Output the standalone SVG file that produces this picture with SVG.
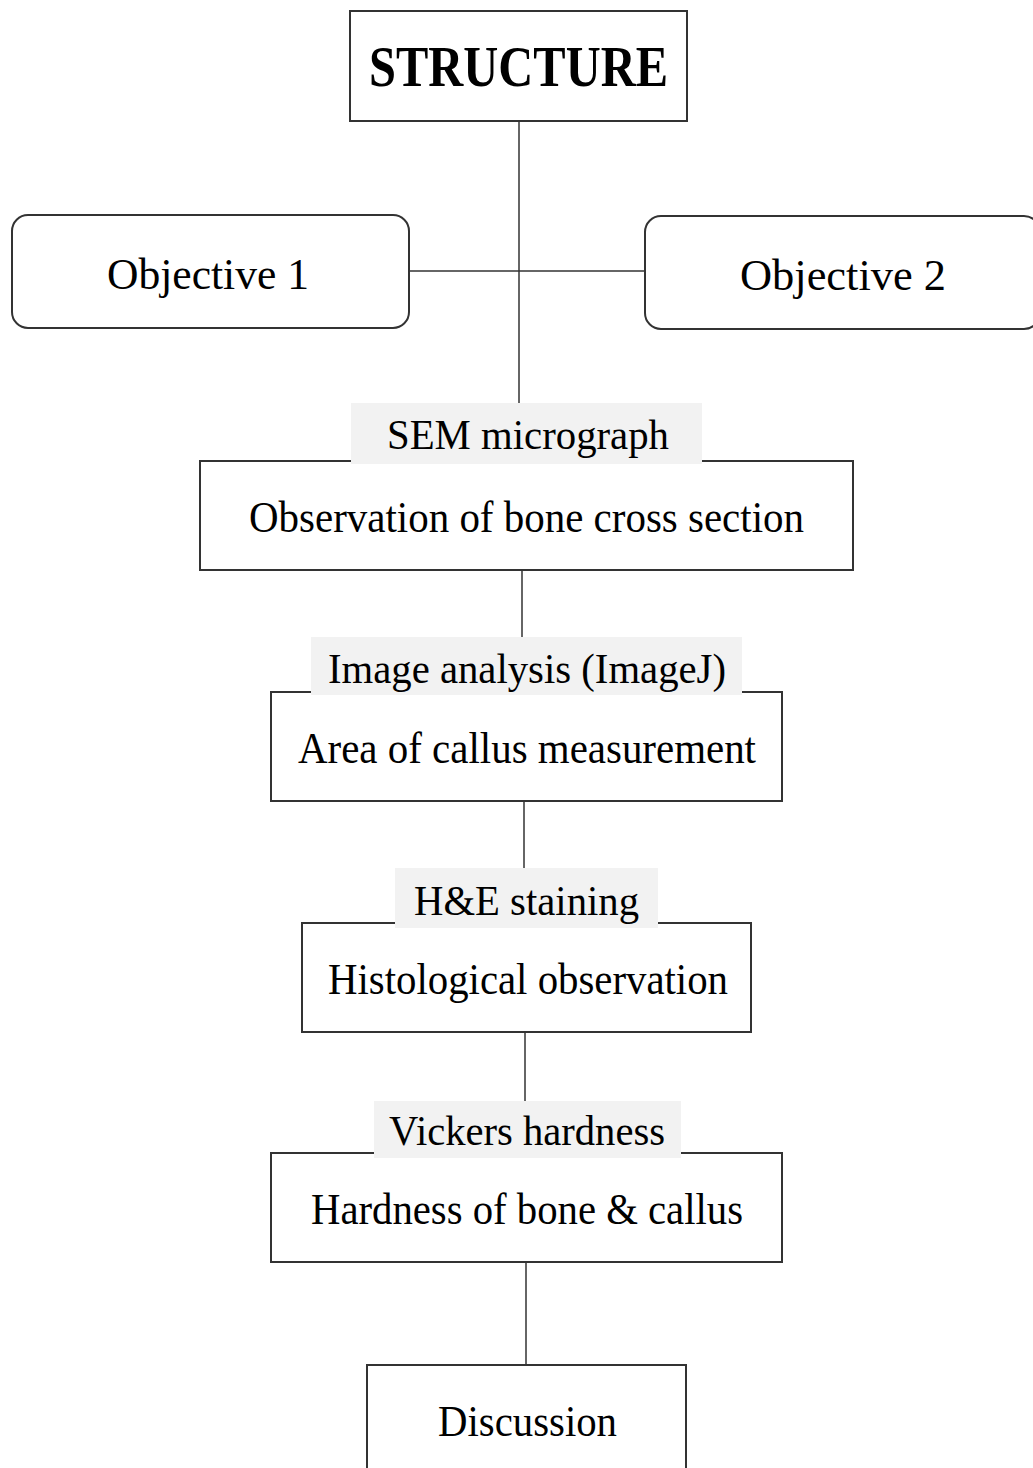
<svg xmlns="http://www.w3.org/2000/svg" width="1033" height="1468" viewBox="0 0 1033 1468">
<style>
.box{fill:#fff;stroke:#333;stroke-width:2}
.lbl{fill:#f2f2f2;stroke:none}
.ln{stroke:#333;stroke-width:1.5;fill:none}
text{font-family:"Liberation Serif","Times New Roman",serif;fill:#000;text-anchor:start}
.t{font-size:44px}
.s{font-size:42px}
.b{font-size:56px;font-weight:bold}
</style>
<rect width="1033" height="1468" fill="#fff"/>
<g id="connectors">
<line class="ln" x1="519" y1="121" x2="519" y2="404"/>
<line class="ln" x1="409" y1="271" x2="645" y2="271"/>
<line class="ln" x1="522" y1="570" x2="522" y2="638"/>
<line class="ln" x1="524" y1="801" x2="524" y2="869"/>
<line class="ln" x1="525" y1="1032" x2="525" y2="1102"/>
<line class="ln" x1="526" y1="1262" x2="526" y2="1365"/>
</g>
<g id="structure">
<rect class="box" x="350" y="11" width="337" height="110"/>
<text class="b" x="369" y="86" textLength="299" lengthAdjust="spacingAndGlyphs">STRUCTURE</text>
</g>
<g id="objective1">
<rect class="box" x="12" y="215" width="397" height="113" rx="16"/>
<text class="t" x="107" y="289" textLength="202" lengthAdjust="spacingAndGlyphs">Objective 1</text>
</g>
<g id="objective2">
<rect class="box" x="645" y="216" width="395" height="113" rx="16"/>
<text class="t" x="740" y="290" textLength="206" lengthAdjust="spacingAndGlyphs">Objective 2</text>
</g>
<g id="observation">
<rect class="box" x="200" y="461" width="653" height="109"/>
<rect class="lbl" x="351" y="403" width="351" height="61"/>
<text class="s" x="387" y="449" textLength="282" lengthAdjust="spacingAndGlyphs">SEM micrograph</text>
<text class="t" x="249" y="532" textLength="555" lengthAdjust="spacingAndGlyphs">Observation of bone cross section</text>
</g>
<g id="area">
<rect class="box" x="271" y="692" width="511" height="109"/>
<rect class="lbl" x="311" y="637" width="431" height="58"/>
<text class="s" x="328" y="683" textLength="398" lengthAdjust="spacingAndGlyphs">Image analysis (ImageJ)</text>
<text class="t" x="298" y="763" textLength="458" lengthAdjust="spacingAndGlyphs">Area of callus measurement</text>
</g>
<g id="histological">
<rect class="box" x="302" y="923" width="449" height="109"/>
<rect class="lbl" x="395" y="868" width="263" height="60"/>
<text class="s" x="414" y="915" textLength="225" lengthAdjust="spacingAndGlyphs">H&amp;E staining</text>
<text class="t" x="328" y="994" textLength="400" lengthAdjust="spacingAndGlyphs">Histological observation</text>
</g>
<g id="hardness">
<rect class="box" x="271" y="1153" width="511" height="109"/>
<rect class="lbl" x="374" y="1101" width="307" height="57"/>
<text class="s" x="389" y="1145" textLength="276" lengthAdjust="spacingAndGlyphs">Vickers hardness</text>
<text class="t" x="311" y="1224" textLength="432" lengthAdjust="spacingAndGlyphs">Hardness of bone &amp; callus</text>
</g>
<g id="discussion">
<rect class="box" x="367" y="1365" width="319" height="120"/>
<text class="t" x="438" y="1436" textLength="179" lengthAdjust="spacingAndGlyphs">Discussion</text>
</g>
</svg>
